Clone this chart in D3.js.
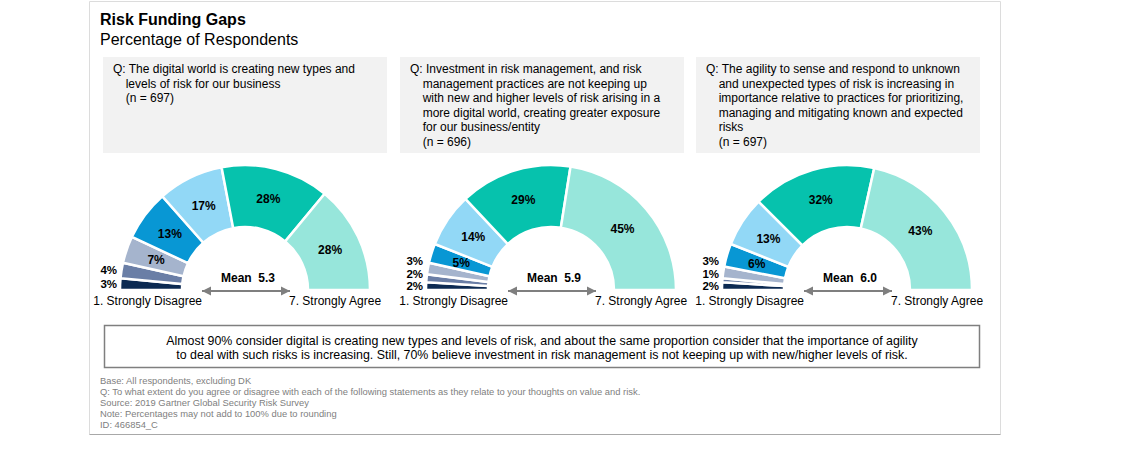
<!DOCTYPE html>
<html>
<head>
<meta charset="utf-8">
<script src="https://cdn.jsdelivr.net/npm/d3@7"></script>
<style>
  body { margin: 0; background: #fff; }
  svg text { font-family: Arial, "Liberation Sans", sans-serif; }
</style>
</head>
<body>
<script>
// dados
const scaleLabels = ["1. Strongly Disagree", "2", "3", "4", "5", "6", "7. Strongly Agree"];
const digitalWorld = [3, 4, 7, 13, 17, 28, 28];
const investmentGap = [2, 2, 3, 5, 14, 29, 45];
const agility = [2, 1, 3, 6, 13, 32, 43];
const means = [5.3, 5.9, 6.0];
const sampleSizes = [697, 696, 697];
const questionLines = [
  ["Q: The digital world is creating new types and", "levels of risk for our business"],
  ["Q: Investment in risk management, and risk", "management practices are not keeping up",
   "with new and higher levels of risk arising in a", "more digital world, creating greater exposure",
   "for our business/entity"],
  ["Q: The agility to sense and respond to unknown", "and unexpected types of risk is increasing in",
   "importance relative to practices for prioritizing,", "managing and mitigating known and expected",
   "risks"]
];
const summaryLines = [
  "Almost 90% consider digital is creating new types and levels of risk, and about the same proportion consider that the importance of agility",
  "to deal with such risks is increasing. Still, 70% believe investment in risk management is not keeping up with new/higher levels of risk."
];
const footnotes = [
  "Base: All respondents, excluding DK",
  "Q: To what extent do you agree or disagree with each of the following statements as they relate to your thoughts on value and risk.",
  "Source: 2019 Gartner Global Security Risk Survey",
  "Note: Percentages may not add to 100% due to rounding",
  "ID: 466854_C"
];
const colors = ["#0c2a52", "#6a7ea6", "#a5b4cd", "#0897d4", "#92d8f6", "#06c2ad", "#97e6db"];

const gauges = [digitalWorld, investmentGap, agility];

const width = 1125, height = 455;
const svg = d3.select("body").append("svg")
  .attr("width", width)
  .attr("height", height);

// moldura
svg.append("line").attr("x1", 89.5).attr("x2", 1000.5).attr("y1", 1.5).attr("y2", 1.5)
  .attr("stroke", "#dcdcdc");
svg.append("line").attr("x1", 89.5).attr("x2", 89.5).attr("y1", 1.5).attr("y2", 434.5)
  .attr("stroke", "#dcdcdc");
svg.append("line").attr("x1", 1000.5).attr("x2", 1000.5).attr("y1", 1.5).attr("y2", 434.5)
  .attr("stroke", "#dcdcdc");
svg.append("line").attr("x1", 89.5).attr("x2", 1000.5).attr("y1", 434.5).attr("y2", 434.5)
  .attr("stroke", "#a8a8a8").attr("stroke-width", 1.2);

// titulo
svg.append("text").attr("x", 100).attr("y", 25)
  .attr("font-size", 16).attr("font-weight", "bold").text("Risk Funding Gaps");
svg.append("text").attr("x", 100).attr("y", 45)
  .attr("font-size", 16).text("Percentage of Respondents");

const boxX = [103, 400, 696];
const centersX = [245, 551, 847];
const cy = 290;
const outerR = 125, innerR = 63;

const pie = d3.pie().sort(null).startAngle(-Math.PI / 2).endAngle(Math.PI / 2);
const arc = d3.arc().innerRadius(innerR).outerRadius(outerR);
const labelArc = d3.arc().innerRadius(innerR + 31).outerRadius(innerR + 31);

// seta
const defs = svg.append("defs");
["start", "end"].forEach(k => {
  defs.append("marker")
    .attr("id", "arrow-" + k)
    .attr("viewBox", "0 0 10 10")
    .attr("refX", k === "end" ? 10 : 0).attr("refY", 5)
    .attr("markerWidth", 4.5).attr("markerHeight", 5)
    .attr("markerUnits", "strokeWidth")
    .attr("orient", "auto")
    .append("path")
    .attr("d", k === "end" ? "M0,0 L10,5 L0,10 Z" : "M10,0 L0,5 L10,10 Z")
    .attr("fill", "#7f7f7f");
});

gauges.forEach((values, gi) => {
  // caixa da pergunta
  svg.append("rect")
    .attr("x", boxX[gi]).attr("y", 57)
    .attr("width", 284).attr("height", 96)
    .attr("fill", "#f2f2f2");

  const lines = questionLines[gi].concat([`(n = ${sampleSizes[gi]})`]);
  const qText = svg.append("text").attr("font-size", 12).attr("fill", "#000");
  const probe = svg.append("text").attr("font-size", 12).text("Q: ");
  const indent = probe.node().getComputedTextLength();
  probe.remove();
  lines.forEach((ln, i) => {
    qText.append("tspan")
      .attr("x", boxX[gi] + 10 + (i === 0 ? 0 : indent))
      .attr("y", 73 + i * 14.5)
      .text(ln);
  });

  const g = svg.append("g").attr("transform", `translate(${centersX[gi]},${cy})`);
  const arcs = pie(values);

  g.selectAll("path")
    .data(arcs)
    .join("path")
    .attr("d", arc)
    .attr("fill", (d, i) => colors[i])
    .attr("stroke", "#fff")
    .attr("stroke-width", 2.5);

  // rotulos dentro
  g.selectAll("text.inside")
    .data(arcs.filter(d => d.data >= 5))
    .join("text")
    .attr("class", "inside")
    .attr("transform", d => `translate(${labelArc.centroid(d)})`)
    .attr("text-anchor", "middle")
    .attr("dy", "0.35em")
    .attr("font-size", 12)
    .attr("font-weight", "bold")
    .text(d => d.data + "%");

  // rotulos fora (fatias pequenas)
  let lastY = Infinity;
  arcs.filter(d => d.data < 5).forEach(d => {
    const mid = (d.startAngle + d.endAngle) / 2;
    let y = -outerR * Math.cos(mid);
    if (y > lastY - 12.5) y = lastY - 12.5;
    lastY = y;
    g.append("text")
      .attr("x", -outerR - 3)
      .attr("y", y)
      .attr("dy", "0.35em")
      .attr("text-anchor", "end")
      .attr("font-size", 11.5)
      .attr("font-weight", "bold")
      .text(d.data + "%");
  });

  // extremos da escala
  g.append("text").attr("x", -43).attr("y", 15)
    .attr("text-anchor", "end").attr("font-size", 12)
    .text(scaleLabels[0]);
  g.append("text").attr("x", 44).attr("y", 15)
    .attr("text-anchor", "start").attr("font-size", 12)
    .text(scaleLabels[6]);

  // media
  g.append("line")
    .attr("x1", -43).attr("x2", 45).attr("y1", 1).attr("y2", 1)
    .attr("stroke", "#7f7f7f").attr("stroke-width", 2)
    .attr("marker-start", "url(#arrow-start)")
    .attr("marker-end", "url(#arrow-end)");
  g.append("text").attr("x", 3).attr("y", -8)
    .attr("text-anchor", "middle").attr("font-size", 12).attr("font-weight", "bold")
    .attr("xml:space", "preserve")
    .text(`Mean  ${means[gi].toFixed(1)}`);
});

// caixa de resumo
svg.append("rect")
  .attr("x", 104.5).attr("y", 325.5)
  .attr("width", 875).attr("height", 42)
  .attr("fill", "#fff")
  .attr("stroke", "#7f7f7f").attr("stroke-width", 1.5);
summaryLines.forEach((ln, i) => {
  svg.append("text")
    .attr("x", 542).attr("y", 345 + i * 14)
    .attr("text-anchor", "middle").attr("font-size", 12.4)
    .text(ln);
});

// notas
footnotes.forEach((ln, i) => {
  svg.append("text")
    .attr("x", 100).attr("y", 384 + i * 11)
    .attr("font-size", 9.4).attr("fill", "#808080")
    .text(ln);
});
</script>
</body>
</html>
